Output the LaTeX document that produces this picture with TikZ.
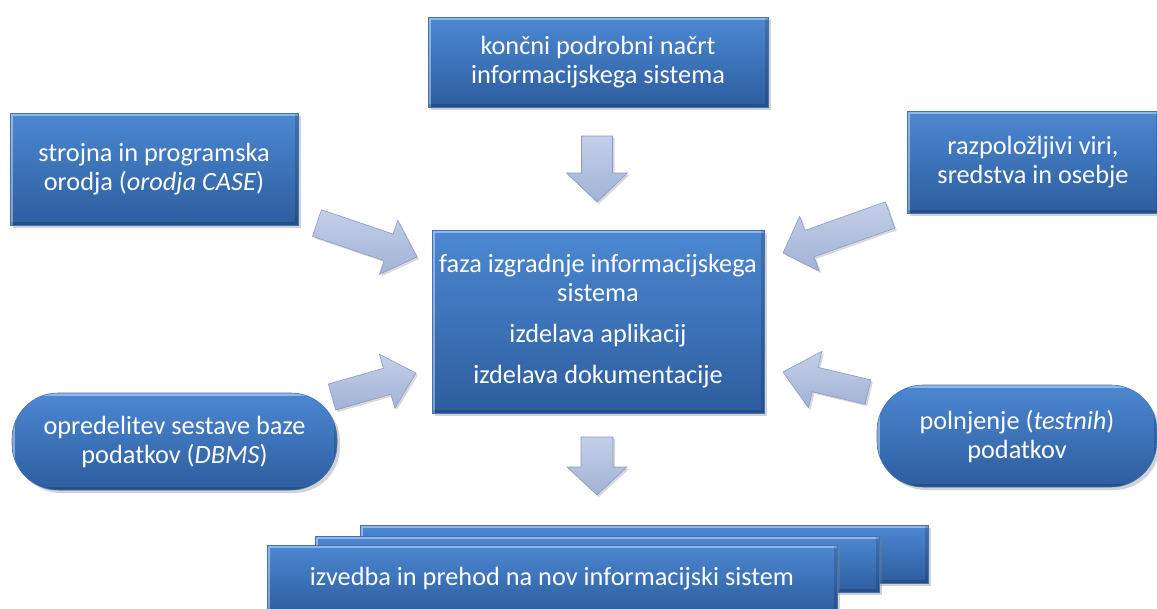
\documentclass[tikz,border=0pt]{standalone}
\usepackage{fontspec}
\setmainfont{Carlito}
\usetikzlibrary{shadows,calc}
\definecolor{boxtop}{RGB}{76,136,210}
\definecolor{boxbot}{RGB}{45,93,158}
\definecolor{boxedge}{RGB}{62,114,186}
\definecolor{arrowfill}{RGB}{162,178,214}
\definecolor{arrowlight}{RGB}{196,207,232}
\definecolor{arrowedge}{RGB}{138,156,198}
\newcommand\dgfont{\fontsize{26.3}{29}\selectfont}
\tikzset{
  bevel/.style={path picture={
     \draw[sharp corners,white,opacity=0.4,line width=6pt] (path picture bounding box.south west) -- (path picture bounding box.north west) -- (path picture bounding box.north east);
     \draw[sharp corners,black,opacity=0.15,line width=6pt] (path picture bounding box.north east) -- (path picture bounding box.south east) -- (path picture bounding box.south west);}},
  box/.style={rectangle, top color=boxtop, bottom color=boxbot, draw=boxedge, line width=0.6pt,
     text=white, align=center, inner sep=0pt, font=\dgfont, bevel,
     drop shadow={opacity=0.35, shadow xshift=3pt, shadow yshift=-3pt}},
  pill/.style={box, rounded corners=46pt},
  barrow/.style={top color=arrowlight, bottom color=arrowfill, draw=arrowedge, line width=0.6pt,
     line join=miter, drop shadow={opacity=0.3, shadow xshift=2pt, shadow yshift=-2pt}},
}
\newcommand\blockarrow[5]{%
  \path let \p1=($(#2)-(#1)$) in \pgfextra{%
    \pgfmathparse{atan2(\y1,\x1)}\xdef\barang{\pgfmathresult}%
    \pgfmathparse{veclen(\x1,\y1)}\xdef\barlen{\pgfmathresult}};
  \begin{scope}[shift={(#1)},rotate=\barang]
    \draw[barrow] (0,-#3) -- ({\barlen-#5},-#3) -- ({\barlen-#5},-#4) -- (\barlen,0)
      -- ({\barlen-#5},#4) -- ({\barlen-#5},#3) -- (0,#3) -- cycle;
  \end{scope}}
\begin{document}
\begin{tikzpicture}[x=1pt,y=-1pt]
\fill[white] (0,0) rectangle (1157,608);
\useasboundingbox (0,0) rectangle (1157,608);

% boxes
\node[box, minimum width=340pt, minimum height=90pt] (plan) at (598,62)
  {končni podrobni načrt\\informacijskega sistema};
\node[box, minimum width=288pt, minimum height=112pt] (tools) at (154,169)
  {strojna in programska\\orodja (\textit{orodja CASE})};
\node[box, minimum width=252pt, minimum height=102pt] (res) at (1033,162)
  {razpoložljivi viri,\\sredstva in osebje};
\node[box, minimum width=332pt, minimum height=183pt] (build) at (598,321.5)
  {faza izgradnje informacijskega\\sistema\\[12pt]izdelava aplikacij\\[12pt]izdelava dokumentacije};
\node[pill, minimum width=325pt, minimum height=97pt] (dbms) at (174.5,441.5)
  {opredelitev sestave baze\\podatkov (\textit{DBMS})};
\node[pill, minimum width=280pt, minimum height=102pt] (data) at (1017,436)
  {polnjenje (\textit{testnih})\\podatkov};

% stacked output box
\node[box, minimum width=568pt, minimum height=58pt] (outback) at (644,554) {};
\node[box, minimum width=564pt, minimum height=56pt] (outmid) at (597,564) {};
\node[box, minimum width=570pt, minimum height=68pt] (out) at (552,579)
  {izvedba in prehod na nov informacijski sistem};

% block arrows
\coordinate (a1t) at (597,136); \coordinate (a1h) at (597,202);
\coordinate (a2t) at (597,437); \coordinate (a2h) at (597,495);
\coordinate (a3t) at (317,223); \coordinate (a3h) at (417,257);
\coordinate (a4t) at (890,215); \coordinate (a4h) at (783,253);
\coordinate (a5t) at (332,397); \coordinate (a5h) at (416,373);
\coordinate (a6t) at (868,392); \coordinate (a6h) at (783,372);
\blockarrow{a1t}{a1h}{15.5}{30.5}{29}
\blockarrow{a2t}{a2h}{16}{30}{28}
\blockarrow{a3t}{a3h}{14}{28.5}{30}
\blockarrow{a4t}{a4h}{14}{29}{28}
\blockarrow{a5t}{a5h}{13.5}{28}{30}
\blockarrow{a6t}{a6h}{12.5}{29}{33}
\end{tikzpicture}
\end{document}
